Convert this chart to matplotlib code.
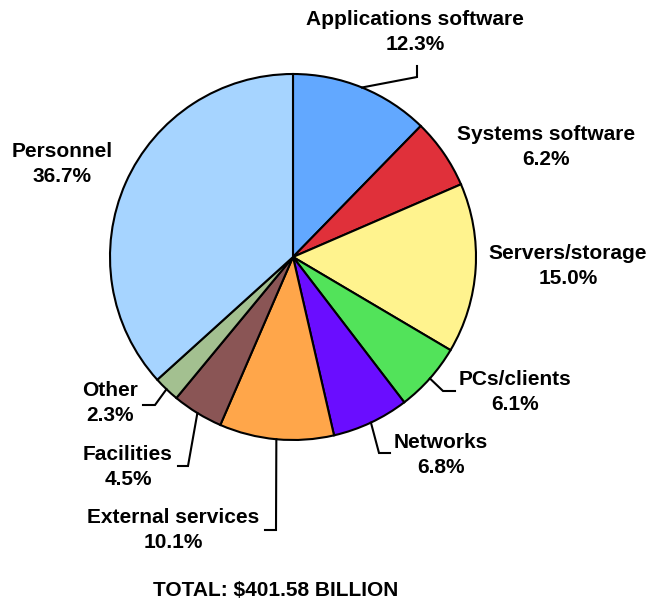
import numpy as np
import matplotlib
matplotlib.use("Agg")
from matplotlib import pyplot as plt

labels = ['Applications software', 'Systems software', 'Servers/storage',
          'PCs/clients', 'Networks', 'External services', 'Facilities',
          'Other', 'Personnel']
shares = [12.3, 6.2, 15.0, 6.1, 6.8, 10.1, 4.5, 2.3, 36.7]
colors = ['#62A8FF', '#E0303A', '#FFF38E', '#52E35A', '#6A0DFF',
          '#FFA64A', '#8A5555', '#A3C090', '#A6D4FF']
total_text = 'TOTAL: $401.58 BILLION'

plt.rcParams['font.family'] = ['Liberation Sans', 'DejaVu Sans']

# work in pixel coords (y down) for placing the texts
W, H = 650, 600
cx, cy, R = 293, 257, 183

fig = plt.figure(figsize=(6.5, 6), dpi=100)
ax = fig.add_axes([0, 0, 1, 1])

wedges, _ = ax.pie(shares, colors=colors, startangle=90, counterclock=False,
                   center=(cx, H - cy), radius=R,
                   wedgeprops=dict(edgecolor='black', linewidth=1.5))
ax.set_xlim(0, W)
ax.set_ylim(0, H)
ax.set_aspect('equal')
ax.axis('off')

# label centres (pixel coords, y down)
label_pos = [(415, 32), (546, 147), (568, 266), (515, 392), (441, 455),
             (173, 530), (128, 467), (110, 403), (62, 164)]
# leader lines: elbow point and end point, None = no line
leaders = [((417, 77), (417, 66)), None, None,
           ((443, 391), (455, 391)), ((379, 453), (390, 453)),
           ((276, 530), (265, 530)), ((188, 466), (178, 466)),
           ((155, 405), (143, 405)), None]

cum = np.cumsum([0] + shares[:-1])
for i, lab in enumerate(labels):
    x, y = label_pos[i]
    ax.text(x, H - y, f'{lab}\n{shares[i]:.1f}%', ha='center', va='center',
            fontsize=15, fontweight='bold', linespacing=1.45)
    if leaders[i] is not None:
        mid = np.deg2rad(90 - 3.6 * (cum[i] + shares[i] / 2))
        ex, ey = cx + R * np.cos(mid), cy - R * np.sin(mid)
        (bx, by), (tx, ty) = leaders[i]
        ax.plot([ex, bx, tx], [H - ey, H - by, H - ty], color='black', lw=1.5,
                solid_joinstyle='miter')

ax.text(276, H - 590, total_text, ha='center', va='center',
        fontsize=15, fontweight='bold')

fig.savefig('out.png', dpi=100)
